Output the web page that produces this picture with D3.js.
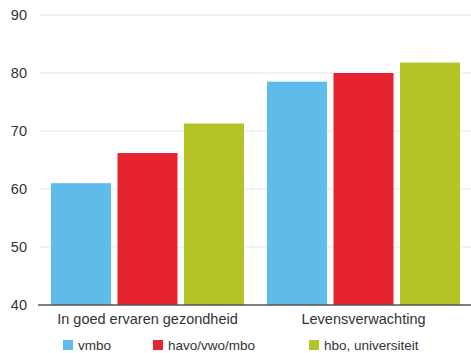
<!DOCTYPE html>
<html><head><meta charset="utf-8">
<script src="https://cdn.jsdelivr.net/npm/d3@7"></script>
<style>body{margin:0;background:#fff;}svg{display:block;font-family:"Liberation Sans",Arial,Helvetica,sans-serif;}</style>
</head><body>
<svg id="c" width="471" height="353"></svg>
<script>
const categories = ["In goed ervaren gezondheid", "Levensverwachting"];
const seriesNames = ["vmbo", "havo/vwo/mbo", "hbo, universiteit"];
const vmbo = [61.0, 78.5];
const havo = [66.2, 80.0];
const hbo = [71.3, 81.8];
const yTicks = [40, 50, 60, 70, 80, 90];
const colors = ["#5fbbea", "#e5242f", "#b4c424"];

const seriesValues = [vmbo, havo, hbo];
const svg = d3.select("#c");
const y = d3.scaleLinear().domain([40, 90]).range([305, 15]);
const x0 = d3.scaleBand().domain(categories).range([51, 460]).paddingInner(0.1065).paddingOuter(0);
const x1 = d3.scaleBand().domain(seriesNames).range([0, x0.bandwidth()]).paddingInner(0.098).paddingOuter(0);

// gridlines
svg.append("g").selectAll("line").data(yTicks.filter(d => d > 40)).join("line")
  .attr("x1", 40).attr("x2", 471)
  .attr("y1", d => y(d)).attr("y2", d => y(d))
  .attr("stroke", "#e3e8ee").attr("stroke-width", 1);

// y axis labels
const yAxis = d3.axisLeft(y).tickValues(yTicks).tickSize(0).tickPadding(0).tickFormat(d3.format("d"));
const ya = svg.append("g").attr("transform", "translate(27,0)").call(yAxis);
ya.select(".domain").remove();
ya.selectAll("text").attr("font-size", 14.5).attr("fill", "#333").attr("font-family", "Liberation Sans, Arial, sans-serif");

// bars
const groups = svg.append("g").selectAll("g").data(categories).join("g")
  .attr("transform", d => `translate(${x0(d)},0)`);
groups.selectAll("rect").data((c, ci) => seriesNames.map((s, si) => ({s, si, v: seriesValues[si][ci]}))).join("rect")
  .attr("x", d => x1(d.s)).attr("width", x1.bandwidth())
  .attr("y", d => y(d.v)).attr("height", d => y(40) - y(d.v))
  .attr("fill", d => colors[d.si]);

// x axis
const xAxis = d3.axisBottom(x0).tickSize(0).tickPadding(9);
const xa = svg.append("g").attr("transform", `translate(0,${y(40)})`).call(xAxis);
xa.select(".domain").remove();
svg.append("line").attr("x1", 38).attr("x2", 471).attr("y1", y(40)).attr("y2", y(40)).attr("stroke", "#555").attr("stroke-width", 1.3);
xa.selectAll("text").attr("font-size", 14.5).attr("fill", "#333").attr("font-family", "Liberation Sans, Arial, sans-serif");

// legend
const legX = [63, 153, 309];
const leg = svg.append("g").selectAll("g").data(seriesNames).join("g")
  .attr("transform", (d, i) => `translate(${legX[i]},340)`);
leg.append("rect").attr("width", 10).attr("height", 10).attr("fill", (d, i) => colors[i]);
leg.append("text").attr("x", 15).attr("y", 10).attr("font-size", 13.5).attr("fill", "#333").text(d => d);
</script>
</body></html>
